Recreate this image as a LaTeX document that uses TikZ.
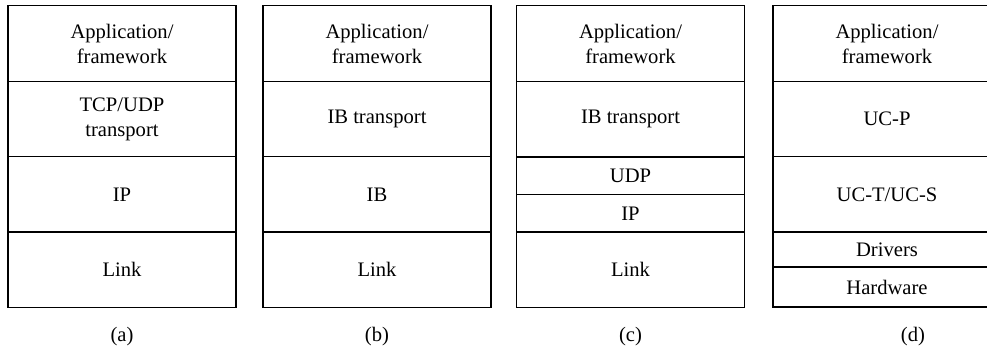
\documentclass[tikz,border=0pt]{standalone}
\usepackage{fontspec}
\setmainfont{Liberation Serif}
\tikzset{
  layer/.style={draw, line width=0.6pt, minimum width=114pt, minimum height=37.75pt,
    inner sep=0pt, outer sep=0pt, align=center, font=\fontsize{10.3}{12.5}\selectfont},
  halflayer/.style={layer, minimum height=18.75pt},
  caption/.style={font=\fontsize{10.3}{12.5}\selectfont}
}
\begin{document}
\begin{tikzpicture}[x=0.5pt, y=-0.5pt]
  \useasboundingbox (0,0) rectangle (987,349);

  % (a)
  \node[layer] at (122, 43.5)  (a1) {Application/\\framework};
  \node[layer] at (122, 119)   (a2) {TCP/UDP\\transport};
  \node[layer] at (122, 194.5) (a3) {IP};
  \node[layer] at (122, 269.5) (a4) {Link};
  \node[caption] at (122, 337) (acap) {(a)};

  % (b)
  \node[layer] at (377, 43.5)  (b1) {Application/\\framework};
  \node[layer] at (377, 119)   (b2) {IB transport};
  \node[layer] at (377, 194.5) (b3) {IB};
  \node[layer] at (377, 269.5) (b4) {Link};
  \node[caption] at (377, 337) (bcap) {(b)};

  % (c)
  \node[layer] at (630.5, 43.5)      (c1) {Application/\\framework};
  \node[layer] at (630.5, 119)       (c2) {IB transport};
  \node[halflayer] at (630.5, 175.75) (c3) {UDP};
  \node[halflayer] at (630.5, 213.25) (c4) {IP};
  \node[layer] at (630.5, 269.5)     (c5) {Link};
  \node[caption] at (630.5, 337)     (ccap) {(c)};

  % (d)
  \node[layer] at (887, 43.5)  (d1) {Application/\\framework};
  \node[layer] at (887, 119)   (d2) {UC-P};
  \node[layer] at (887, 194.5) (d3) {UC-T/UC-S};
  \node[layer, minimum height=17.5pt] at (887, 249.5) (d4) {Drivers};
  \node[layer, minimum height=20pt]   at (887, 287)   (d5) {Hardware};
  \node[caption] at (913, 337) (dcap) {(d)};
\end{tikzpicture}
\end{document}
